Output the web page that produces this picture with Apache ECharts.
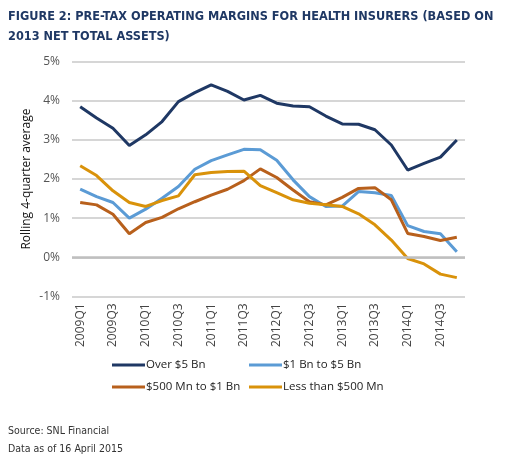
<!DOCTYPE html>
<html>
<head>
<meta charset="utf-8">
<script src="https://cdn.jsdelivr.net/npm/echarts@6/dist/echarts.min.js"></script>
<style>
  html, body { margin: 0; padding: 0; background: #fff; }
  #main { width: 506px; height: 458px; }
</style>
</head>
<body>
<div id="main"></div>
<script>
// quarters 2009Q1 .. 2014Q4
var quarters = ['2009Q1','2009Q2','2009Q3','2009Q4','2010Q1','2010Q2','2010Q3','2010Q4',
                '2011Q1','2011Q2','2011Q3','2011Q4','2012Q1','2012Q2','2012Q3','2012Q4',
                '2013Q1','2013Q2','2013Q3','2013Q4','2014Q1','2014Q2','2014Q3','2014Q4'];

var over5bn = [3.85, 3.56, 3.30, 2.86, 3.13, 3.47, 3.98, 4.21, 4.41, 4.24, 4.02, 4.14,
               3.94, 3.87, 3.85, 3.61, 3.41, 3.40, 3.26, 2.87, 2.23, 2.40, 2.56, 3.00];
var bn1to5 = [1.74, 1.55, 1.40, 1.00, 1.23, 1.51, 1.81, 2.25, 2.47, 2.62, 2.76, 2.75,
              2.48, 1.98, 1.55, 1.30, 1.31, 1.68, 1.65, 1.58, 0.81, 0.66, 0.60, 0.14];
var mn500to1bn = [1.40, 1.34, 1.10, 0.60, 0.89, 1.02, 1.24, 1.42, 1.59, 1.74, 1.96, 2.26,
                  2.04, 1.72, 1.42, 1.34, 1.53, 1.76, 1.78, 1.47, 0.61, 0.53, 0.43, 0.51];
var under500mn = [2.34, 2.09, 1.70, 1.40, 1.30, 1.45, 1.57, 2.11, 2.17, 2.19, 2.20, 1.83,
                  1.65, 1.47, 1.38, 1.34, 1.30, 1.11, 0.83, 0.44, -0.03, -0.17, -0.43, -0.52];

var seriesNames = ['Over $5 Bn', '$1 Bn to $5 Bn', '$500 Mn to $1 Bn', 'Less than $500 Mn'];
var colors = ['#1f3864', '#5b9bd5', '#b8601c', '#d9920a'];

var myChart = echarts.init(document.getElementById('main'));

function line(name, data, color, extra) {
    var s = {
        name: name,
        type: 'line',
        data: data,
        symbol: 'none',
        lineStyle: { width: 3, color: color },
        itemStyle: { color: color },
        z: 3
    };
    if (extra) s.markLine = extra;
    return s;
}

// one legend box per entry, 2 x 2 layout
function legendItem(name, left, top) {
    return {
        data: [name],
        left: left,
        top: top,
        padding: 0,
        itemWidth: 33,
        itemHeight: 3,
        icon: 'rect',
        textStyle: {
            fontFamily: 'Open Sans',
            fontSize: 11.5,
            color: '#222',
            padding: [0, 0, 0, -4]
        }
    };
}

var zeroLine = {
    silent: true,
    symbol: 'none',
    label: { show: false },
    lineStyle: { color: '#bfbfbf', width: 2.5, type: 'solid' },
    data: [{ yAxis: 0 }]
};

var option = {
    backgroundColor: '#fff',
    animation: false,
    color: colors,
    title: [{
        text: 'FIGURE 2: PRE-TAX OPERATING MARGINS FOR HEALTH INSURERS (BASED ON\n2013 NET TOTAL ASSETS)',
        left: 3,
        top: 2,
        textStyle: {
            fontFamily: 'DejaVu Sans Condensed',
            fontWeight: 'bold',
            fontSize: 12.6,
            lineHeight: 20,
            color: '#1f3864'
        }
    }, {
        text: 'Source: SNL Financial\nData as of 16 April 2015',
        left: 3,
        top: 417,
        textStyle: {
            fontFamily: 'DejaVu Sans Condensed',
            fontWeight: 'normal',
            fontSize: 10.5,
            lineHeight: 18,
            color: '#333'
        }
    }],
    legend: [
        legendItem(seriesNames[0], 112, 359),
        legendItem(seriesNames[1], 249, 359),
        legendItem(seriesNames[2], 112, 381),
        legendItem(seriesNames[3], 249, 381)
    ],
    grid: {
        left: 72,
        right: 41,
        top: 61.7,
        bottom: 161.6,
        containLabel: false
    },
    xAxis: {
        type: 'category',
        data: quarters,
        boundaryGap: true,
        axisLine: { show: false },
        axisTick: { show: false },
        axisLabel: {
            interval: 1,
            rotate: 90,
            margin: 7,
            fontFamily: 'Open Sans',
            fontSize: 12,
            color: '#444'
        }
    },
    yAxis: {
        type: 'value',
        min: -1,
        max: 5,
        interval: 1,
        name: 'Rolling 4-quarter average',
        nameLocation: 'middle',
        nameGap: 39,
        nameMoveOverlap: false,
        nameTextStyle: {
            fontFamily: 'Open Sans',
            fontSize: 12,
            color: '#111'
        },
        axisLine: { show: false },
        axisTick: { show: false },
        axisLabel: {
            formatter: '{value}%',
            margin: 12,
            fontFamily: 'Open Sans',
            fontSize: 12,
            color: '#555'
        },
        splitLine: { lineStyle: { color: '#c8c8c8', width: 1.5 } }
    },
    series: [
        line(seriesNames[0], over5bn, colors[0], zeroLine),
        line(seriesNames[1], bn1to5, colors[1]),
        line(seriesNames[2], mn500to1bn, colors[2]),
        line(seriesNames[3], under500mn, colors[3])
    ]
};
myChart.setOption(option);
</script>
</body>
</html>
